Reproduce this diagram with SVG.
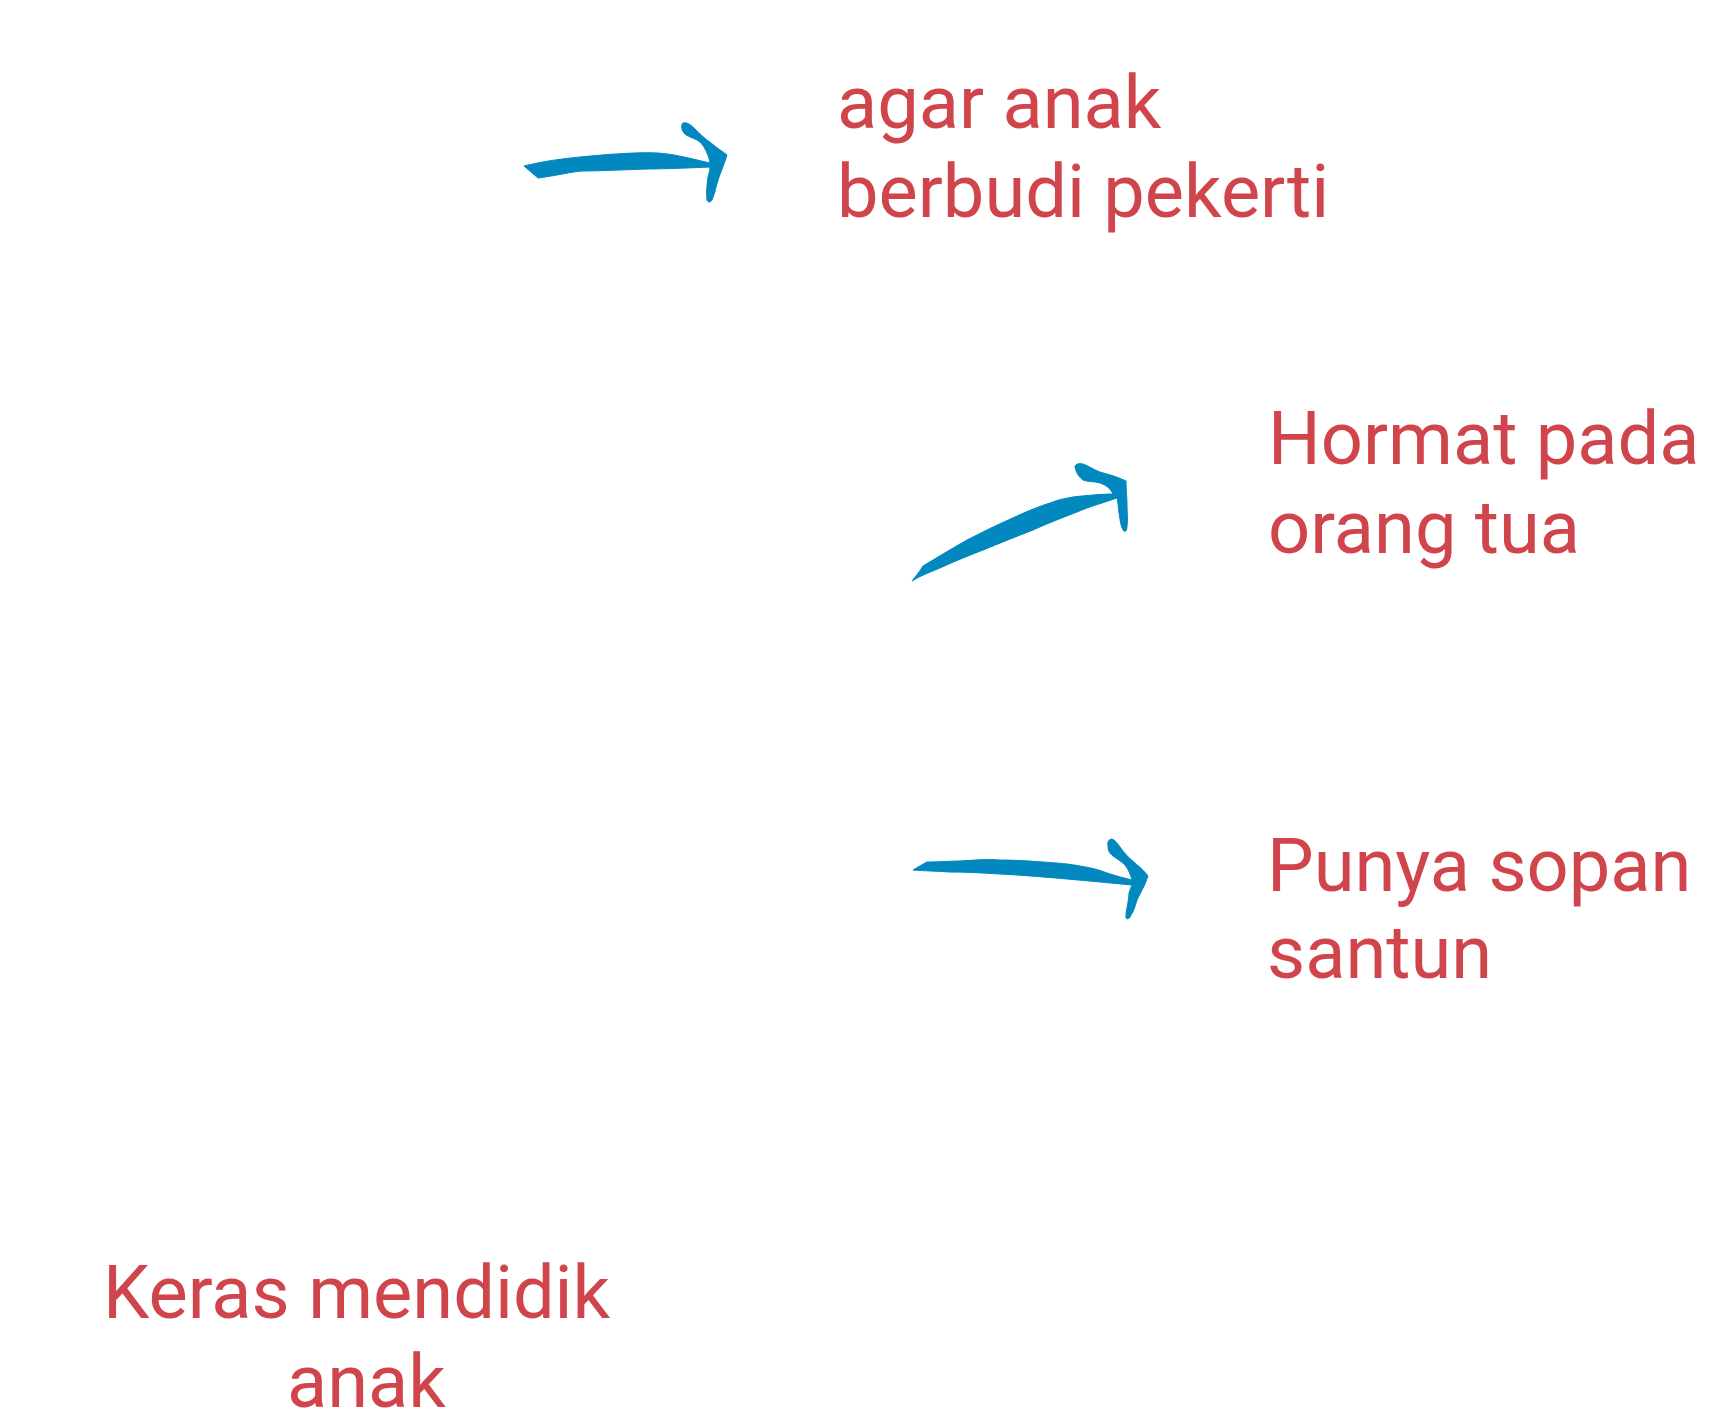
<svg xmlns="http://www.w3.org/2000/svg" width="1718" height="1427" viewBox="0 0 1718 1427">
<style>
.lbl{font-family:Roboto,"Liberation Sans",sans-serif;font-size:74px;fill:#D0454B}
.arr{fill:#0088BF;stroke:#0088BF;stroke-width:1;stroke-linejoin:round}
</style>
<rect width="1718" height="1427" fill="#FFFFFF"/>
<g id="connectors">
<path class="arr" d="M524,166 C545,161 560,159 580,157 C610,154 640,152 658,153 C672,154 685,157 710,163 C709,156 705,147 700,142 C693,137 687,137 684,133 C681,129 681,125 683,123 C686,122 690,124 694,128 C700,134 705,139 711,143 C717,148 722,151 727,155 C725,161 722,170 719,177 C716,186 715,193 712,200 C711,202 708,203 707,200 C706,193 707,185 708,177 C709,173 710,170 710,167 C690,168 660,169 648,169 C620,170 595,171 582,171 C570,172 560,175 538,178 Z"/>
<path class="arr" d="M912,581 C916,576 920,571 923,566 C930,562 936,558 943,554 C955,547 966,540 977,535 C990,528 1004,522 1017,516 C1028,511 1040,506 1050,503 C1060,499 1068,498 1073,497 C1090,495 1103,494 1113,494 C1111,489 1106,485 1100,483 C1093,481 1088,482 1083,480 C1078,476 1076,472 1075,467 C1075,464 1079,463 1083,464 C1089,466 1094,470 1100,472 C1106,474 1113,475 1126,481 C1126,490 1127,497 1127,505 C1127,513 1128,520 1127,526 C1127,530 1126,532 1124,531 C1121,528 1120,520 1119,513 C1118,506 1118,502 1117,498 C1105,502 1096,505 1087,508 C1070,515 1050,522 1033,530 C1015,537 1000,543 983,550 C968,556 955,561 940,568 C928,573 920,576 912,581 Z"/>
<path class="arr" d="M913,870 C918,867 923,864 927,862 C940,862 950,861 960,861 C975,860 988,859 1000,860 C1015,860 1030,861 1043,862 C1058,863 1070,864 1080,866 C1092,868 1100,870 1107,873 C1116,876 1124,878 1132,880 C1131,876 1129,870 1125,865 C1121,861 1117,859 1113,856 C1109,853 1108,850 1108,846 C1107,842 1109,839 1112,839 C1115,840 1117,843 1120,847 C1124,853 1129,858 1135,863 C1141,868 1145,872 1148,876 C1146,881 1145,885 1143,888 C1141,892 1139,896 1137,900 C1135,906 1134,911 1131,915 C1130,918 1128,920 1126,918 C1126,914 1126,911 1127,908 C1128,902 1129,897 1129,893 C1130,890 1131,887 1132,885 C1110,883 1090,881 1067,879 C1045,877 1020,875 1000,874 C985,873 965,872 950,872 C935,871 925,871 913,870 Z"/>
</g>
<g id="node-agar">
<text class="lbl" x="837" y="128">agar anak</text>
<text class="lbl" x="837" y="217">berbudi pekerti</text>
</g>
<g id="node-hormat">
<text class="lbl" x="1268" y="464">Hormat pada</text>
<text class="lbl" x="1268" y="553">orang tua</text>
</g>
<g id="node-punya">
<text class="lbl" x="1267" y="891">Punya sopan</text>
<text class="lbl" x="1267" y="978">santun</text>
</g>
<g id="node-keras">
<text class="lbl" x="103" y="1318">Keras mendidik</text>
<text class="lbl" x="287" y="1407">anak</text>
</g>
</svg>
